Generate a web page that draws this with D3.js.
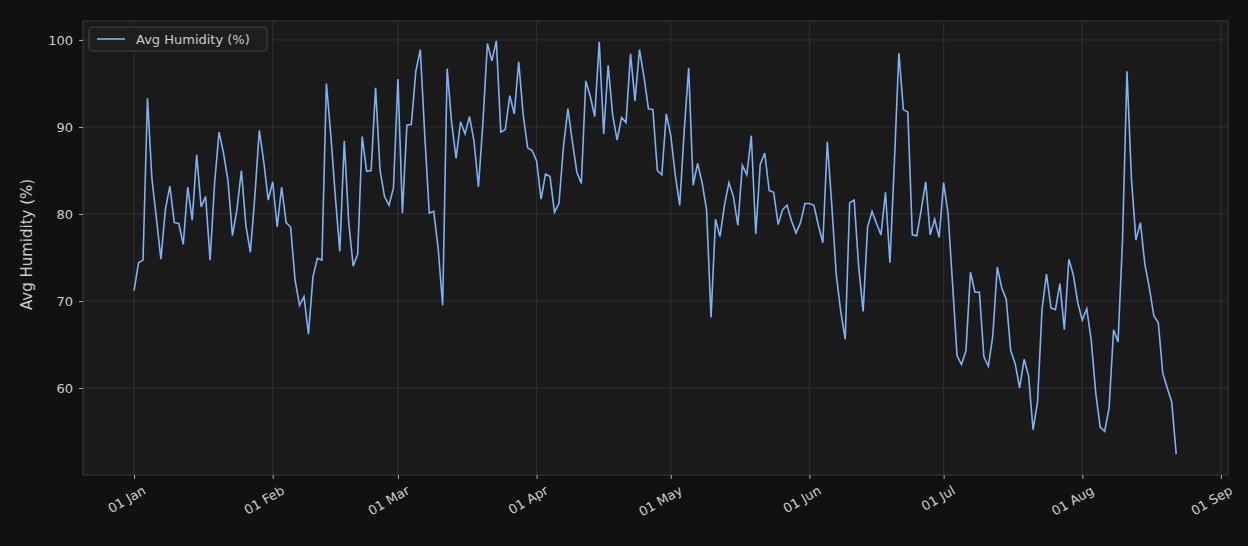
<!DOCTYPE html>
<html>
<head>
<meta charset="utf-8">
<script src="https://cdn.jsdelivr.net/npm/d3@7"></script>
<style>
body { margin: 0; background: #111111; }
text { font-family: "DejaVu Sans", sans-serif; }
</style>
</head>
<body>
<div id="chart"></div>
<script>
const width = 1248, height = 546,
margin = {top: 21, right: 20, bottom: 71, left: 83};

const startDate = "2023-01-01";
const humidity = [
// Jan
71.2,74.4,74.7,93.3,84,79.5,74.8,80.5,83.2,79,78.9,76.5,83.1,79.3,86.8,80.8,82,74.7,83.5,89.4,87,83.8,77.5,80.5,85,78.7,75.6,82,89.6,86,81.6,
// Feb
83.7,78.5,83.1,79,78.5,72.4,69.5,70.5,66.2,72.8,74.9,74.7,95,89,82,75.7,88.4,79,74,75.4,88.9,84.9,85,94.5,85,82,81,83,
// Mar
95.5,80.1,90.2,90.3,96.4,98.9,89,80.1,80.3,76,69.5,96.7,90.5,86.4,90.6,89.2,91.2,88.4,83.1,90.5,99.6,97.6,99.9,89.4,89.7,93.6,91.5,97.5,91.4,87.6,87.3,
// Apr
86.1,81.7,84.6,84.3,80.2,81.2,87.7,92.1,88.3,84.8,83.5,95.3,93.5,91.2,99.8,89.2,97.1,91.4,88.5,91.1,90.5,98.4,93,98.9,95.8,92.1,92,85,84.5,91.5,
// May
89,84.5,81,89.5,96.8,83.3,85.8,83.6,80.5,68.1,79.4,77.4,81,83.6,82,78.7,85.6,84.5,89,77.7,85.7,87,82.7,82.5,78.8,80.5,81,79.2,77.8,79,81.2,
// Jun
81.2,81,78.7,76.7,88.3,81,73,68.8,65.6,81.3,81.6,74,68.8,78.5,80.3,78.9,77.6,82.5,74.4,86,98.5,92,91.7,77.6,77.5,80.5,83.7,77.6,79.4,77.3,
// Jul
83.6,80,72,63.7,62.7,64.3,73.3,71,71,63.6,62.5,66,73.9,71.5,70.2,64.3,62.8,60,63.3,61.4,55.2,58.4,69,73.1,69.2,69,72,66.7,74.8,73,69.8,
// Aug
67.8,69.1,65.5,59.5,55.5,55,57.7,66.7,65.3,77,96.4,84,77,79,74.2,71.5,68.3,67.5,61.7,60,58.4,52.4
];
const yTicks = [60, 70, 80, 90, 100];
const seriesName = "Avg Humidity (%)";

const t0 = new Date(startDate + "T00:00:00");
const data = humidity.map((v, i) => ({date: d3.timeDay.offset(t0, i), value: v}));

const svg = d3.select("#chart")
.append("svg")
.attr("width", width)
.attr("height", height);

svg.append("rect").attr("width", width).attr("height", height).attr("fill", "#111111");
svg.append("rect")
.attr("x", margin.left).attr("y", margin.top)
.attr("width", width - margin.left - margin.right)
.attr("height", height - margin.top - margin.bottom)
.attr("fill", "#1a1a1a")
.attr("stroke", "#3a3a3a");

let x = d3.scaleTime(
  [d3.timeHour.offset(t0, -11.4 * 24), d3.timeHour.offset(t0, 244.6 * 24)],
  [margin.left, width - margin.right]);
let y = d3.scaleLinear([50, 102.18], [height - margin.bottom, margin.top]);

const monthTicks = d3.timeMonth.range(t0, new Date("2023-09-02T00:00:00"));

// grid
svg.append("g")
.selectAll("line.gx")
.data(monthTicks)
.join("line")
.attr("x1", d => x(d)).attr("x2", d => x(d))
.attr("y1", margin.top).attr("y2", height - margin.bottom)
.attr("stroke", "#303030");
svg.append("g")
.selectAll("line.gy")
.data(yTicks)
.join("line")
.attr("x1", margin.left).attr("x2", width - margin.right)
.attr("y1", d => y(d)).attr("y2", d => y(d))
.attr("stroke", "#303030");

const xAxis = svg.append("g")
.attr("transform", `translate(0,${height - margin.bottom})`)
.call(d3.axisBottom(x).tickValues(monthTicks).tickFormat(d3.timeFormat("%d %b")).tickSize(4));
xAxis.selectAll("text")
.attr("fill", "#cccccc").attr("font-size", 13)
.attr("text-anchor", "end")
.attr("transform", "translate(4,4) rotate(-30)");

const yAxis = svg.append("g")
.attr("transform", `translate(${margin.left},0)`)
.call(d3.axisLeft(y).tickValues(yTicks).tickSize(4).tickPadding(6));
yAxis.selectAll("text").attr("fill", "#cccccc").attr("font-size", 13);

[xAxis, yAxis].forEach(a => {
  a.select(".domain").remove();
  a.selectAll("line").attr("stroke", "#aaaaaa");
});

svg.append("path")
.datum(data)
.attr("fill", "none")
.attr("stroke", "#80b1f5")
.attr("stroke-width", 1.6)
.attr("d", d3.line().x(d => x(d.date)).y(d => y(d.value)));

// legend
const lg = svg.append("g").attr("transform", "translate(89,27)");
lg.append("rect").attr("width", 178).attr("height", 24).attr("rx", 3)
.attr("fill", "#1e1e1e").attr("stroke", "#444");
lg.append("line").attr("x1", 8).attr("x2", 36).attr("y1", 12).attr("y2", 12)
.attr("stroke", "#80b1f5").attr("stroke-width", 1.6);
lg.append("text").attr("x", 47).attr("y", 17).attr("fill", "#cccccc")
.attr("font-size", 13).text(seriesName);

svg.append("text")
.attr("text-anchor", "middle")
.attr("transform", `translate(32,${y(76.5)}) rotate(-90)`)
.attr("fill", "#cccccc").attr("font-size", 15)
.text(seriesName);
</script>
</body>
</html>
